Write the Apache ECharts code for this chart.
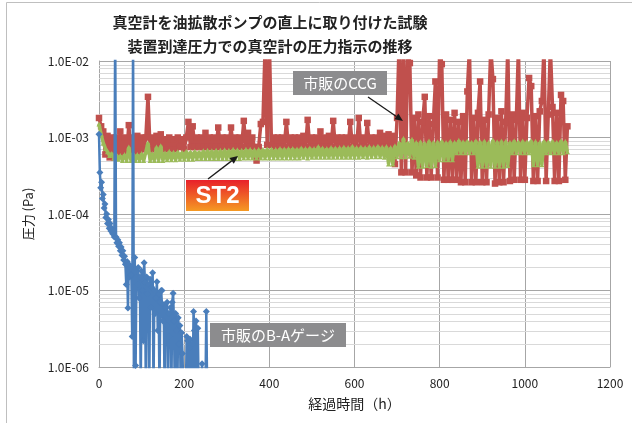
<!DOCTYPE html>
<html>
<head>
<meta charset="utf-8">
<script src="https://cdn.jsdelivr.net/npm/echarts@6/dist/echarts.min.js"></script>
<style>
  html, body { margin: 0; padding: 0; background: #fff; }
  #main { width: 632px; height: 423px; }
</style>
</head>
<body>
<div id="main"></div>
<script>
  // 市販のCCG : 5h毎, 値は ×1e-4 Pa
  const ccgStep = 5
  const ccgVals = [
    18, 14, 12, 6, 10.5, 5.5, 10, 5.5, 10, 6,
    12, 6, 10, 6, 14.5, 6.5, 10, 6.5, 10.5, 6.5,
    10, 7, 10, 34, 7, 10, 7, 10.5, 7, 11,
    7, 9.5, 7, 10, 7, 9.5, 7, 10, 7.5, 9.5,
    7, 10, 16, 7.5, 14, 7.5, 10, 7.5, 10, 7.5,
    11.5, 7.5, 10, 7.5, 10, 7.5, 13.5, 7.5, 10, 7.5,
    10, 7.5, 13.5, 7.5, 10, 7.5, 10, 7.5, 16.5, 7.5,
    11.5, 7.5, 10, 7.5, 5, 7.5, 15, 16, 150, 8,
    200, 8, 10, 7.5, 10, 7.5, 10, 7.5, 16, 7.5,
    10, 7.5, 10, 7.5, 10, 7.5, 10.5, 7.5, 17, 7.5,
    10, 7.5, 10, 7.5, 12, 7.5, 10, 7.5, 10.5, 7.5,
    16.5, 7.5, 10, 7.5, 10, 7.5, 10, 7.5, 16, 7.5,
    10, 7.5, 18, 7.5, 10, 7.5, 15.5, 7.5, 10, 7.5,
    10, 7.5, 11.5, 7.5, 10.5, 7.5, 11, 7.5, 10.5, 4.5,
    18, 200, 3.5, 180, 3.5, 150, 94, 3.5, 18, 3.2,
    20, 3.0, 16, 34, 3.0, 19, 3.0, 15, 54, 3.0,
    150, 91, 2.8, 20, 2.8, 17, 2.8, 21, 2.8, 16,
    2.6, 19, 2.6, 40, 150, 2.6, 18, 2.6, 21, 54,
    2.6, 17, 2.6, 20, 150, 58, 2.5, 18, 2.6, 22,
    2.6, 16, 150, 2.7, 20, 2.8, 17, 150, 2.8, 21,
    2.8, 18, 60, 47, 2.7, 19, 2.7, 22, 30, 150,
    2.7, 20, 150, 25, 2.7, 21, 2.7, 36, 30, 2.8, 14
  ]

  // ST2 : 5h毎, ×1e-4 Pa
  const st2Step = 5
  const st2Vals = [
    15, 11, 8.5, 7.2, 6.5, 5.8, 6.2, 5.4, 6, 5.2,
    5.8, 5.0, 6.0, 5.0, 7.5, 5.0, 6.2, 5.0, 6.0, 5.0,
    6.2, 5.0, 6.5, 8.5, 5.0, 6.2, 5.0, 7.5, 5.0, 7.8,
    5.0, 6.3, 5.1, 6.6, 5.1, 6.4, 5.1, 6.5, 5.2, 6.4,
    5.2, 6.6, 5.2, 6.5, 5.2, 6.6, 5.3, 6.5, 5.3, 6.7,
    5.3, 6.8, 5.3, 6.7, 5.3, 6.8, 5.3, 6.8, 5.3, 6.9,
    5.3, 6.8, 5.3, 7.0, 5.3, 6.9, 5.3, 6.8, 5.4, 7.0,
    5.4, 7.0, 5.4, 6.9, 5.4, 7.0, 5.4, 7.0, 5.4, 7.1,
    5.4, 7.1, 5.4, 7.0, 5.4, 7.2, 5.4, 7.1, 5.4, 7.2,
    5.4, 7.2, 5.4, 7.1, 5.4, 7.3, 5.5, 7.2, 5.4, 7.3,
    5.5, 7.2, 5.5, 7.6, 5.5, 7.3, 5.5, 7.2, 5.5, 7.4,
    5.5, 7.3, 5.5, 7.4, 5.5, 7.5, 5.5, 7.4, 5.5, 7.7,
    5.5, 7.4, 5.5, 7.5, 5.6, 7.4, 5.5, 7.6, 5.6, 7.5,
    5.6, 7.7, 5.6, 7.5, 5.5, 7.6, 4.5, 7.4, 4.5, 7.8,
    5.6, 8.6, 5.6, 9.8, 5.6, 8.6, 5.7, 9.5, 5.5, 8.7,
    4.2, 8.8, 4.2, 8.5, 4.3, 9.0, 4.2, 8.7, 4.3, 8.8,
    5.1, 9.0, 5.1, 8.6, 5.1, 8.9, 5.1, 8.7, 6.3, 9.2,
    6.3, 8.8, 6.3, 9.0, 6.3, 8.7, 6.3, 9.1, 4.2, 8.8,
    4.2, 9.0, 4.2, 8.7, 4.2, 9.3, 4.2, 8.8, 4.2, 9.0,
    4.2, 8.9, 4.3, 8.7, 6.3, 9.1, 6.3, 8.8, 6.3, 9.0,
    6.3, 8.8, 6.3, 9.1, 4.4, 8.9, 4.4, 8.7, 4.4, 9.0,
    6.3, 8.8, 6.3, 9.0, 6.3, 8.7, 6.3, 9.1, 6.3, 8.9, 6.5
  ]

  // 市販のB-Aゲージ : 2h毎, Pa (5e-7 は下限以下)
  const baStep = 2
  const baVals = [
    1.1e-3, 3.5e-4, 2.2e-4, 2.6e-4, 1.6e-4, 1.8e-4, 1.2e-4, 1.35e-4, 9e-5, 1.0e-4,
    7.5e-5, 8.5e-5, 6.5e-5, 7.5e-5, 6e-5, 6.5e-5, 5.5e-5, 6e-5, 5e-5, 3e-2,
    5e-5, 4.2e-5, 4.6e-5, 3.8e-5, 4.2e-5, 3.3e-5, 3.7e-5, 2.9e-5, 3.3e-5, 2.5e-5,
    2.8e-5, 2.2e-5, 1.2e-5, 2.4e-5, 5.9e-6, 2.2e-5, 1.5e-5, 2e-5, 1.6e-5, 2.5e-6,
    2.5e-2, 5e-7, 2.7e-5, 1.05e-6, 1.8e-5, 1.2e-5, 2e-5, 8e-6, 1.5e-5, 5e-7,
    1.8e-5, 1e-5, 2.2e-6, 2.3e-5, 1.3e-5, 5e-7, 1.5e-5, 9e-6, 1.2e-5, 5e-7,
    1.4e-5, 6e-6, 1.1e-5, 1.7e-5, 5e-7, 1e-5, 5e-6, 8e-6, 1.3e-5, 3e-6,
    9e-6, 5e-7, 7e-6, 1e-5, 1e-5, 4e-6, 6.5e-6, 5e-7, 6e-6, 3.5e-6,
    7e-6, 5e-7, 5e-6, 2.5e-6, 6e-6, 5e-7, 7e-6, 9.2e-6, 4e-6, 5e-7,
    5e-6, 3e-6, 5e-7, 4.4e-6, 2e-6, 3.5e-6, 5e-7, 2.8e-6, 1.5e-6, 5e-7,
    5e-7, 5e-7, 5e-7, 2.5e-6, 2.2e-6, 5e-7, 1.8e-6, 2.3e-6, 5e-7, 2e-6,
    5e-7, 5.3e-6, 3e-6, 5e-7, 4e-6, 5e-7, 3.2e-6, 5e-7, 5e-7, 5e-7,
    5e-7, 1.1e-6, 5e-7, 5e-7, 5e-7, 5e-7, 5.3e-6, 5e-7
  ]

  let ccgData = ccgVals.map((v, i) => [i * ccgStep, v * 1e-4])
  let st2Data = st2Vals.map((v, i) => [i * st2Step, v * 1e-4])
  let baData = baVals.map((v, i) => [i * baStep, v])

  // 対数軸の補助目盛線 (2..9 × 10^n)
  let minorLines = []
  for (let e = -6; e <= -3; e++) {
    for (let k = 2; k <= 9; k++) {
      minorLines.push([0, k * Math.pow(10, e)])
    }
  }

  // 矢印 (線 + 三角)
  function arrow(x1, y1, x2, y2) {
    let a = Math.atan2(y2 - y1, x2 - x1)
    let len = 8, w = 3.5
    let bx = x2 - len * Math.cos(a), by = y2 - len * Math.sin(a)
    let nx = -Math.sin(a) * w, ny = Math.cos(a) * w
    return [
      { type: 'line', shape: { x1: x1, y1: y1, x2: bx, y2: by }, style: { stroke: '#1a1a1a', lineWidth: 1.3 }, z: 100 },
      { type: 'polygon', shape: { points: [[x2, y2], [bx + nx, by + ny], [bx - nx, by - ny]] }, style: { fill: '#1a1a1a' }, z: 100 }
    ]
  }

  let jp = '"Noto Sans CJK JP", "Noto Sans", sans-serif'

  let myChart = echarts.init(document.getElementById('main'))
  myChart.setOption({
    animation: false,
    backgroundColor: '#fff',
    title: {
      text: '真空計を油拡散ポンプの直上に取り付けた試験\n装置到達圧力での真空計の圧力指示の推移',
      left: 265,
      top: 5,
      textAlign: 'center',
      textStyle: { fontFamily: jp, fontSize: 15, fontWeight: 'bold', color: '#222', lineHeight: 24 }
    },
    grid: { left: 99, right: 22, top: 61, bottom: 56 },
    xAxis: {
      type: 'value',
      min: 0,
      max: 1200,
      interval: 200,
      name: '経過時間（h）',
      nameLocation: 'middle',
      nameGap: 30,
      nameTextStyle: { fontFamily: jp, fontSize: 14, color: '#222' },
      axisLine: { lineStyle: { color: '#a6a6a6' } },
      axisTick: { show: false },
      axisLabel: { fontFamily: jp, fontSize: 12, color: '#222', margin: 10, formatter: v => String(v) },
      splitLine: { show: true, lineStyle: { color: '#a6a6a6', width: 1 } }
    },
    yAxis: {
      type: 'log',
      logBase: 10,
      min: 1e-6,
      max: 1e-2,
      name: '圧力 (Pa)',
      nameLocation: 'middle',
      nameGap: 64,
      nameTextStyle: { fontFamily: jp, fontSize: 13, color: '#222' },
      axisLine: { show: true, lineStyle: { color: '#a6a6a6' } },
      axisTick: { show: false },
      axisLabel: {
        fontFamily: jp, fontSize: 12, color: '#222', margin: 10,
        formatter: function (v) {
          let e = Math.round(Math.log10(v))
          return '1.0E' + (e < 0 ? '-' : '+') + String(Math.abs(e)).padStart(2, '0')
        }
      },
      splitLine: { show: true, lineStyle: { color: '#a6a6a6', width: 1 } }
    },
    series: [
      {
        // 補助目盛線
        type: 'custom',
        data: minorLines,
        z: 1,
        silent: true,
        renderItem: function (params, api) {
          let cs = params.coordSys
          let y = Math.round(api.coord([0, api.value(1)])[1]) + 0.5
          return {
            type: 'line',
            shape: { x1: cs.x, y1: y, x2: cs.x + cs.width, y2: y },
            style: { stroke: '#d9d9d9', lineWidth: 1 }
          }
        }
      },
      {
        name: '市販のCCG',
        type: 'line',
        data: ccgData,
        z: 2,
        symbol: 'rect',
        symbolSize: 6.5,
        showAllSymbol: true,
        lineStyle: { color: '#c0504d', width: 3.5 },
        itemStyle: { color: '#c0504d' },
        clip: true
      },
      {
        name: 'ST2',
        type: 'line',
        data: st2Data,
        z: 3,
        symbol: 'triangle',
        symbolSize: 5,
        showAllSymbol: true,
        lineStyle: { color: '#9bbb59', width: 3.5 },
        itemStyle: { color: '#9bbb59' },
        clip: true
      },
      {
        name: '市販のB-Aゲージ',
        type: 'line',
        data: baData,
        z: 4,
        symbol: 'diamond',
        symbolSize: 7,
        showAllSymbol: true,
        lineStyle: { color: '#4a7ebb', width: 2.5 },
        itemStyle: { color: '#4a7ebb' },
        clip: true
      }
    ],
    graphic: [
      // 外枠
      { type: 'rect', shape: { x: 6.5, y: 2.5, width: 700, height: 500 }, style: { fill: 'none', stroke: '#bfbfbf', lineWidth: 1 }, z: 50 },
      // 市販のCCG
      { type: 'rect', shape: { x: 293, y: 71, width: 94, height: 24 }, style: { fill: '#8c8c8e' }, z: 100 },
      { type: 'text', x: 340, y: 83, style: { text: '市販のCCG', fill: '#fff', font: '15px ' + jp, align: 'center', verticalAlign: 'middle' }, z: 101 },
      ...arrow(368, 97, 403, 121),
      // ST2
      {
        type: 'rect', shape: { x: 186, y: 180, width: 63, height: 31 },
        style: {
          fill: new echarts.graphic.LinearGradient(0, 0, 0, 1, [
            { offset: 0, color: '#e8202a' },
            { offset: 1, color: '#f59a23' }
          ])
        },
        z: 100
      },
      { type: 'text', x: 217.5, y: 196, style: { text: 'ST2', fill: '#fff', font: 'bold 24px "Liberation Sans", Arial, sans-serif', align: 'center', verticalAlign: 'middle' }, z: 101 },
      ...arrow(208, 179, 238, 156),
      // 市販のB-Aゲージ
      { type: 'rect', shape: { x: 210, y: 323, width: 136, height: 24 }, style: { fill: '#8c8c8e' }, z: 100 },
      { type: 'text', x: 278, y: 335, style: { text: '市販のB-Aゲージ', fill: '#fff', font: '15px ' + jp, align: 'center', verticalAlign: 'middle' }, z: 101 }
    ]
  })
</script>
</body>
</html>
